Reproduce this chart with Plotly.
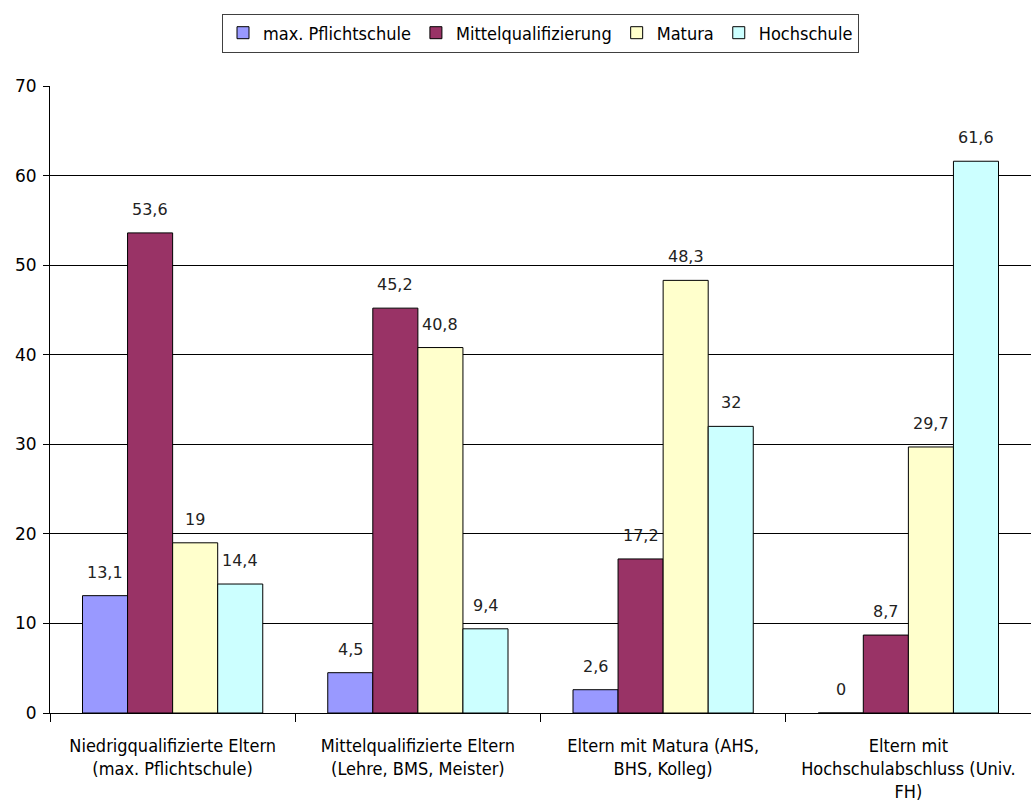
import plotly.graph_objects as go

categories = [
    "Niedrigqualifizierte Eltern<br>(max. Pflichtschule)",
    "Mittelqualifizierte Eltern<br>(Lehre, BMS, Meister)",
    "Eltern mit Matura (AHS,<br>BHS, Kolleg)",
    "Eltern mit<br>Hochschulabschluss (Univ.<br>FH)",
]
series_names = ["max. Pflichtschule", "Mittelqualifizierung", "Matura", "Hochschule"]
pflichtschule = [13.1, 4.5, 2.6, 0]
mittelqual = [53.6, 45.2, 17.2, 8.7]
matura = [19, 40.8, 48.3, 29.7]
hochschule = [14.4, 9.4, 32, 61.6]
colors = ["#9999FF", "#993366", "#FFFFCC", "#CCFFFF"]
y_ticks = [0, 10, 20, 30, 40, 50, 60, 70]

NARROW = "DejaVu Sans Condensed, Liberation Sans"

W, H = 1031, 809
ML, MR, MT, MB = 50, 0, 86, 96
BARGAP = 0.265
plot_w = W - ML - MR
bar_px = plot_w / len(categories) * (1 - BARGAP) / len(series_names)

fig = go.Figure()
all_series = [pflichtschule, mittelqual, matura, hochschule]
for i, (name, vals, col) in enumerate(zip(series_names, all_series, colors)):
    fig.add_trace(go.Bar(
        x=categories, y=vals, name=name,
        marker=dict(color=col, line=dict(color="black", width=1)),
    ))
    for cat, v in zip(categories, vals):
        fig.add_annotation(
            x=cat, y=v, xref="x", yref="y", text=f"{v:g}".replace(".", ","),
            showarrow=False, yanchor="bottom", yshift=12,
            xshift=(i - (len(series_names) - 1) / 2) * bar_px,
            font=dict(family="DejaVu Sans", size=16, color="#222222"),
        )

fig.update_layout(
    width=W, height=H,
    margin=dict(l=ML, r=MR, t=MT, b=MB),
    paper_bgcolor="white", plot_bgcolor="white",
    barmode="group", bargap=BARGAP, bargroupgap=0,
    font=dict(family=NARROW, size=18, color="black"),
    legend=dict(
        orientation="h", x=0.5, xanchor="center", y=1 + (MT - 33) / (H - MT - MB),
        yanchor="middle",
        bordercolor="#404040", borderwidth=1,
        font=dict(family=NARROW, size=18),
        itemwidth=30, traceorder="normal",
    ),
    showlegend=True,
)
fig.update_yaxes(
    range=[0, 70], tickvals=y_ticks, showgrid=True, gridcolor="black", gridwidth=1,
    showline=True, linecolor="black", linewidth=1, ticks="outside", ticklen=6,
    tickcolor="black", tickfont=dict(family="DejaVu Sans", size=17),
    ticklabelstandoff=3, zeroline=False, automargin=False,
)
fig.update_xaxes(
    showline=True, linecolor="black", linewidth=1, ticks="outside", ticklen=8,
    tickcolor="black", tickson="boundaries", ticklabelstandoff=16, tickangle=0,
    tickfont=dict(family=NARROW, size=18), automargin=False,
)

fig.write_html("out.html")
